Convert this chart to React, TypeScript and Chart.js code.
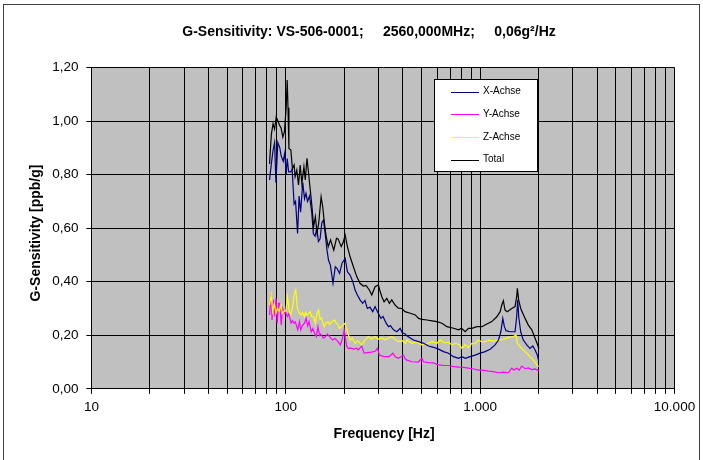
import React, { useEffect, useRef } from 'react';
import { Chart, registerables } from 'chart.js';

Chart.register(...registerables);

// ---- Data ----
const titleText = 'G-Sensitivity: VS-506-0001;     2560,000MHz;     0,06g\u00B2/Hz';
const xAxisTitle = 'Frequency [Hz]';
const yAxisTitle = 'G-Sensitivity [ppb/g]';

const xTickValues = [
  10, 20, 30, 40, 50, 60, 70, 80, 90,
  100, 200, 300, 400, 500, 600, 700, 800, 900,
  1000, 2000, 3000, 4000, 5000, 6000, 7000, 8000, 9000, 10000,
];
const xTickLabels: Record<number, string> = { 10: '10', 100: '100', 1000: '1.000', 10000: '10.000' };
const yTickValues = [0, 0.2, 0.4, 0.6, 0.8, 1.0, 1.2];

const seriesNames = ['X-Achse', 'Y-Achse', 'Z-Achse', 'Total'];
const seriesColors = ['#000080', '#ff00ff', '#ffff00', '#000000'];

const xAchseFreq = [
  82.5, 84.3, 86, 87.6, 89, 91, 93.2, 94.7, 97, 98.8, 100.5, 101.7, 103.5, 106, 107.8, 110.4, 112.3, 115,
  117.1, 119.2, 122.3, 124.9, 127.1, 129.4, 132.5, 136, 138.6, 141.5, 144.4, 147.2, 150.2, 153.3, 156.3,
  159.5, 162.8, 166, 169.6, 175, 179.8, 183.3, 189.2, 194.7, 202.1, 207.6, 214.3, 221.3, 227.3, 233.6,
  241, 248.8, 255.5, 262.8, 270.9, 280.3, 288, 295.6, 308.3, 316.4, 328.5, 337.6, 345.2, 358.3, 373,
  387.9, 396.9, 411.3, 419.8, 437, 454.3, 482.2, 511.5, 542.6, 575.6, 610.6, 647.9, 687.4, 729.5, 774.4,
  806, 838, 888.6, 943, 1000.5, 1061, 1126, 1194, 1243, 1278, 1308, 1333, 1359, 1425, 1512, 1542, 1561,
  1579, 1617, 1668, 1737, 1806, 1866, 1917, 1970, 2000,
];
const xAchseVals = [
  0.78, 0.84, 0.89, 0.92, 0.77, 0.92, 0.9, 0.87, 0.85, 0.88, 0.8, 0.86, 0.81, 0.81, 0.82, 0.69, 0.7, 0.58,
  0.72, 0.66, 0.77, 0.71, 0.73, 0.7, 0.72, 0.66, 0.58, 0.57, 0.6, 0.55, 0.56, 0.62, 0.63,
  0.58, 0.52, 0.48, 0.462, 0.394, 0.456, 0.45, 0.431, 0.469, 0.487, 0.437, 0.425, 0.4, 0.369, 0.35,
  0.332, 0.319, 0.33, 0.3, 0.305, 0.288, 0.307, 0.29, 0.263, 0.27, 0.245, 0.232, 0.236, 0.22, 0.213,
  0.226, 0.21, 0.205, 0.198, 0.19, 0.182, 0.176, 0.17, 0.16, 0.155, 0.148, 0.139, 0.133, 0.12, 0.114,
  0.12, 0.114, 0.12, 0.126, 0.133, 0.139, 0.148, 0.164, 0.182, 0.213, 0.263, 0.232, 0.217, 0.213, 0.213, 0.269, 0.332,
  0.27, 0.213, 0.182, 0.164, 0.151, 0.16, 0.145, 0.126, 0.105,
];

const yAchseFreq = [
  82.5, 84.1, 85, 86.6, 87.9, 89.1, 90.4, 91.8, 93.1, 94.7, 96.3, 98.2, 100, 101.8, 103.5, 106.5, 108.3,
  110.2, 112, 115.3, 117.6, 119.4, 121.5, 124.8, 127.3, 129.6, 131.7, 135.2, 137.8, 140.7, 143.6, 146.5,
  149.2, 151, 156.3, 160.1, 163.8, 167.9, 174.2, 179.2, 185.7, 190.9, 194.8, 199.8, 202.5, 206.2, 210,
  216.7, 223.8, 231, 236.3, 246, 252.8, 262.7, 276, 288.4, 296, 303.3, 319.4, 340, 355.5, 365.8, 380,
  403.4, 411.3, 420, 446, 480, 501.9, 511, 542.6, 575.6, 610.6, 656, 687.4, 729.5, 781, 822, 871, 917,
  980, 1033, 1103, 1168, 1243, 1315, 1397, 1454, 1494, 1542, 1589, 1637, 1705, 1770, 1844, 1917, 2000,
];
const yAchseVals = [
  0.276, 0.35, 0.257, 0.332, 0.27, 0.338, 0.245, 0.319, 0.32, 0.238, 0.3, 0.282, 0.285, 0.27, 0.28, 0.245, 0.255,
  0.245, 0.25, 0.22, 0.251, 0.22, 0.235, 0.245, 0.263, 0.235, 0.251, 0.213, 0.225, 0.207, 0.195, 0.232,
  0.2, 0.205, 0.189, 0.195, 0.205, 0.195, 0.182, 0.188, 0.176, 0.164, 0.182, 0.22, 0.19, 0.157, 0.151,
  0.152, 0.148, 0.152, 0.145, 0.16, 0.133, 0.135, 0.137, 0.14, 0.151, 0.126, 0.12, 0.12, 0.133, 0.12, 0.114,
  0.126, 0.112, 0.107, 0.101, 0.1, 0.114, 0.101, 0.098, 0.097, 0.089, 0.087, 0.087, 0.083, 0.081, 0.08, 0.077, 0.075,
  0.07, 0.07, 0.066, 0.064, 0.06, 0.062, 0.06, 0.077, 0.07, 0.077, 0.07, 0.085, 0.075, 0.078, 0.072, 0.074, 0.068,
];

const zAchseFreq = [
  82.5, 84.1, 85.6, 87.3, 89.1, 90.6, 92.6, 94.4, 96.2, 98.1, 100, 102.1, 104.1, 106.2, 108.2, 110.4, 112.6,
  114.8, 116.8, 120, 121.9, 124.8, 126.5, 128.6, 133.6, 135.7, 139, 141.9, 144.8, 147.6, 150, 152.5, 157.7,
  160.7, 164.9, 167.9, 172, 178.3, 181.9, 185.3, 188.6, 192.3, 196.9, 202.1, 204.5, 207.6, 214.3, 219.8,
  227.3, 234, 246, 255.7, 266, 276, 288, 298.8, 310, 324.3, 337, 351.4, 365.8, 380.1, 396.9, 411.5, 420,
  446, 469.7, 501.9, 531.6, 565, 599, 623.3, 656.3, 687.2, 716, 750, 781.2, 806.3, 838.5, 871, 906.7,
  937.5, 980.4, 1021, 1063, 1103, 1168, 1243, 1315, 1397, 1482, 1530, 1554, 1637, 1737, 1844, 1956, 2000,
];
const zAchseVals = [
  0.313, 0.35, 0.288, 0.319, 0.282, 0.3, 0.29, 0.313, 0.282, 0.29, 0.29, 0.344, 0.294, 0.276, 0.3, 0.35, 0.369,
  0.3, 0.285, 0.276, 0.285, 0.27, 0.285, 0.275, 0.288, 0.27, 0.27, 0.245, 0.282, 0.294, 0.26, 0.265, 0.232,
  0.245, 0.251, 0.24, 0.25, 0.257, 0.245, 0.24, 0.226, 0.23, 0.238, 0.245, 0.226, 0.213, 0.182, 0.19,
  0.17, 0.18, 0.164, 0.182, 0.195, 0.185, 0.195, 0.185, 0.19, 0.182, 0.19, 0.195, 0.185, 0.176, 0.18, 0.17, 0.182,
  0.17, 0.175, 0.164, 0.168, 0.176, 0.17, 0.182, 0.172, 0.174, 0.164, 0.17, 0.165, 0.151, 0.165, 0.155, 0.17,
  0.168, 0.182, 0.175, 0.176, 0.182, 0.178, 0.182, 0.185, 0.192, 0.195, 0.201, 0.17, 0.151, 0.133, 0.114, 0.09, 0.083,
];

const totalFreq = [
  82.5, 84.3, 86, 87.6, 89.3, 91.1, 92.8, 94.7, 96.6, 98.4, 100.5, 101.7, 102.7, 103.8, 106.2, 108.2, 110.4,
  111.7, 114, 116.3, 118.6, 121, 124, 126, 128.6, 131, 133.7, 136.4, 139.1, 142, 144.9, 147.7, 152, 154.9,
  158.1, 161.5, 165.4, 170, 176.6, 182.4, 185.8, 192.9, 197, 202.1, 207.6, 214.3, 222.8, 231.9, 241, 250.6,
  258.6, 269.2, 277, 288, 299.6, 304, 312, 320.5, 331, 341.2, 351, 365, 379.5, 396, 410.8, 437, 463.7,
  482.2, 501.9, 532.6, 565.1, 599.6, 636.1, 674.8, 729.5, 774.4, 802, 838, 870.8, 906.7, 962.1, 1020.9,
  1083, 1148, 1218, 1268, 1292, 1317, 1343, 1380, 1454, 1512, 1542, 1554, 1579, 1617, 1703, 1770, 1844,
  1917, 1993, 2000,
];
const totalVals = [
  0.84, 0.95, 0.99, 0.97, 1.016, 1.0, 0.985, 0.973, 0.94, 0.96, 1.05, 1.153, 1.05, 0.898, 0.892, 0.823, 0.836,
  0.792, 0.817, 0.761, 0.836, 0.767, 0.83, 0.78, 0.861, 0.805, 0.742, 0.68, 0.605, 0.643, 0.581, 0.618, 0.717, 0.68,
  0.618, 0.568, 0.531, 0.556, 0.518, 0.562, 0.56, 0.531, 0.545, 0.574, 0.531, 0.493, 0.456, 0.419, 0.394, 0.384,
  0.386, 0.369, 0.35, 0.381, 0.388, 0.37, 0.344, 0.325, 0.338, 0.319, 0.332, 0.313, 0.301, 0.3, 0.288, 0.282, 0.276,
  0.263, 0.259, 0.257, 0.254, 0.251, 0.245, 0.232, 0.226, 0.22, 0.226, 0.213, 0.226, 0.226, 0.232, 0.232,
  0.242, 0.251, 0.269, 0.288, 0.313, 0.329, 0.294, 0.288, 0.3, 0.307, 0.344, 0.375, 0.332, 0.3, 0.263, 0.238, 0.22,
  0.189, 0.157, 0.15,
];

const FONT = "'Liberation Sans', Arial, sans-serif";

const toPoints = (f: number[], v: number[]) => f.map((x, i) => ({ x, y: v[i] }));

const decorPlugin = {
  id: 'decor',
  beforeDraw(chart: any) {
    const { ctx, chartArea: a } = chart;
    ctx.save();
    ctx.fillStyle = '#ffffff';
    ctx.fillRect(0, 0, chart.width, chart.height);
    ctx.fillStyle = '#c0c0c0';
    ctx.fillRect(a.left, a.top, a.right - a.left, a.bottom - a.top);
    ctx.strokeStyle = '#404040';
    ctx.lineWidth = 1;
    ctx.strokeRect(3.5, 4.5, 696, 480);
    ctx.restore();
  },
  afterDraw(chart: any) {
    const { ctx } = chart;
    ctx.save();
    ctx.fillStyle = '#000';
    // title
    ctx.font = `bold 14px ${FONT}`;
    ctx.textAlign = 'center';
    ctx.textBaseline = 'alphabetic';
    ctx.fillText(titleText, 369, 36);
    // x axis title
    ctx.fillText(xAxisTitle, 384, 438);
    // y axis title
    ctx.save();
    ctx.translate(40, 233);
    ctx.rotate(-Math.PI / 2);
    ctx.fillText(yAxisTitle, 0, 0);
    ctx.restore();
    // legend
    const bx = 434.5, by = 79.5, bw = 103, bh = 92;
    ctx.fillStyle = '#ffffff';
    ctx.fillRect(bx, by, bw, bh);
    ctx.strokeStyle = '#000';
    ctx.lineWidth = 1;
    ctx.strokeRect(bx, by, bw, bh);
    ctx.font = `10px ${FONT}`;
    ctx.textAlign = 'left';
    ctx.textBaseline = 'middle';
    chart.data.datasets.forEach((ds: any, i: number) => {
      const y = 91.5 + i * 22.7;
      ctx.strokeStyle = ds.borderColor;
      ctx.beginPath();
      ctx.moveTo(451, Math.round(y) + 0.5);
      ctx.lineTo(479, Math.round(y) + 0.5);
      ctx.stroke();
      ctx.fillStyle = '#000';
      ctx.fillText(ds.label, 483, y);
    });
    ctx.restore();
  },
};

export default function App() {
  const ref = useRef<HTMLCanvasElement | null>(null);

  useEffect(() => {
    if (!ref.current) return;
    const seriesFreq = [xAchseFreq, yAchseFreq, zAchseFreq, totalFreq];
    const seriesVals = [xAchseVals, yAchseVals, zAchseVals, totalVals];
    const orders = [1, 3, 2, 0];
    const chart = new Chart(ref.current, {
      type: 'scatter',
      data: {
        datasets: seriesNames.map((name, i) => ({
          label: name,
          data: toPoints(seriesFreq[i], seriesVals[i]),
          showLine: true,
          borderColor: seriesColors[i],
          backgroundColor: seriesColors[i],
          borderWidth: 1.2,
          pointRadius: 0,
          tension: 0,
          order: orders[i],
        })),
      },
      options: {
        responsive: false,
        animation: false,
        events: [],
        layout: { padding: { top: 67.5, right: 28.5, left: 0, bottom: 0 } },
        plugins: {
          legend: { display: false },
          title: { display: false },
          tooltip: { enabled: false },
        },
        scales: {
          x: {
            type: 'logarithmic',
            min: 10,
            max: 10000,
            afterBuildTicks: (s: any) => {
              s.ticks = xTickValues.map((v) => ({ value: v }));
            },
            afterFit: (s: any) => {
              s.height = 71.2;
            },
            ticks: {
              autoSkip: false,
              maxRotation: 0,
              minRotation: 0,
              padding: 5,
              color: '#000',
              font: { family: FONT, size: 13.5 },
              callback: (v: any) => xTickLabels[Number(v)] ?? '',
            },
            grid: { color: '#000', lineWidth: 1, tickLength: 5, drawTicks: true },
            border: { display: true, color: '#000', width: 1 },
          },
          y: {
            type: 'linear',
            min: 0,
            max: 1.2,
            afterBuildTicks: (s: any) => {
              s.ticks = yTickValues.map((v) => ({ value: v }));
            },
            afterFit: (s: any) => {
              s.width = 91.4;
            },
            ticks: {
              autoSkip: false,
              padding: 8,
              color: '#000',
              font: { family: FONT, size: 13.5 },
              callback: (v: any) => Number(v).toFixed(2).replace('.', ','),
            },
            grid: { color: '#000', lineWidth: 1, tickLength: 5, drawTicks: true },
            border: { display: true, color: '#000', width: 1 },
          },
        },
      } as any,
      plugins: [decorPlugin],
    });
    return () => chart.destroy();
  }, []);

  return (
    <div style={{ position: 'fixed', left: 0, top: 0, width: 703, height: 460, background: '#fff' }}>
      <canvas ref={ref} width={703} height={460} style={{ width: 703, height: 460, display: 'block' }} />
    </div>
  );
}
